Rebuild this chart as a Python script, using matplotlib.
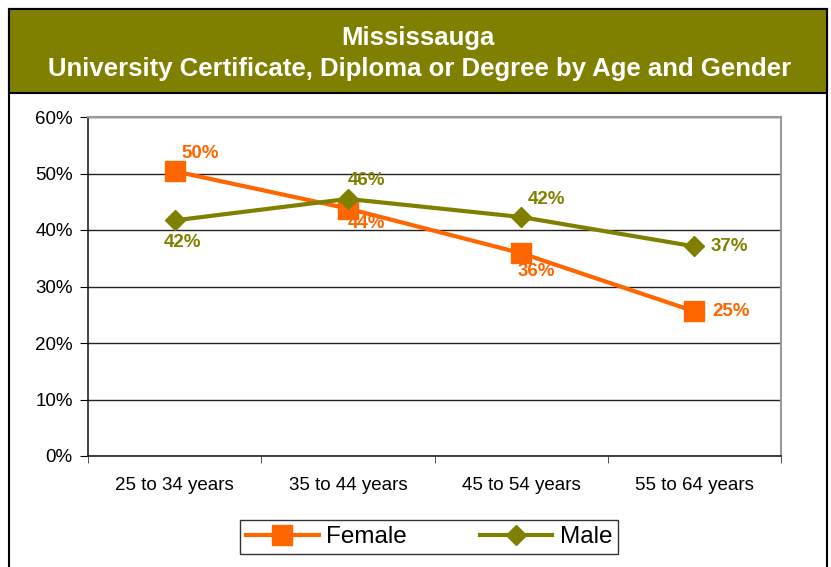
import matplotlib
matplotlib.use("Agg")
import matplotlib.pyplot as plt
from matplotlib.patches import Rectangle

plt.rcParams["font.family"] = ["Liberation Sans", "DejaVu Sans"]

AGES = ["25 to 34 years", "35 to 44 years", "45 to 54 years", "55 to 64 years"]
FEMALE = [50.4, 43.8, 35.9, 25.6]
MALE = [41.7, 45.5, 42.3, 37.1]
FEMALE_LABELS = ["50%", "44%", "36%", "25%"]
MALE_LABELS = ["42%", "46%", "42%", "37%"]
Y_TICKS = [0, 10, 20, 30, 40, 50, 60]

ORANGE = "#ff6600"
OLIVE = "#808000"

W, H = 831, 567
fig = plt.figure(figsize=(W / 100, H / 100), dpi=100)

# outer frame + olive title band (behind the axes)
fig.patches.append(Rectangle((9 / W, -0.1), 818 / W, 1.1 - 9 / H, transform=fig.transFigure,
                             facecolor="white", edgecolor="black", lw=1.5, zorder=-2))
fig.patches.append(Rectangle((9 / W, 1 - 93 / H), 818 / W, 84 / H, transform=fig.transFigure,
                             facecolor=OLIVE, edgecolor="black", lw=1.5, zorder=-1))
fig.text(418 / W, 1 - 38 / H, "Mississauga", ha="center", va="center",
         color="white", fontsize=18.5, fontweight="bold")
fig.text(420 / W, 1 - 69 / H, "University Certificate, Diploma or Degree by Age and Gender",
         ha="center", va="center", color="white", fontsize=18.5, fontweight="bold")

ax = fig.add_axes([88 / W, 1 - 456 / H, 693 / W, 339 / H])
ax.patch.set_alpha(0)
x = list(range(len(AGES)))
ax.plot(x, FEMALE, color=ORANGE, lw=3, marker="s", ms=14, label="Female", zorder=3)
ax.plot(x, MALE, color=OLIVE, lw=3, marker="D", ms=10, label="Male", zorder=4)

# data labels
f_off = [(5, 13), (0, -11), (11, -13), (13, 0)]
f_ha = ["left", "left", "center", "left"]
for i, (v, t) in enumerate(zip(FEMALE, FEMALE_LABELS)):
    ax.annotate(t, (i, v), xytext=f_off[i], textcoords="offset points",
                ha=f_ha[i], va="center", color=ORANGE, fontsize=13.5, fontweight="bold", zorder=5)
m_off = [(6, -16), (0, 13), (5, 12.5), (12, 0)]
m_ha = ["center", "left", "left", "left"]
for i, (v, t) in enumerate(zip(MALE, MALE_LABELS)):
    ax.annotate(t, (i, v), xytext=m_off[i], textcoords="offset points",
                ha=m_ha[i], va="center", color=OLIVE, fontsize=13.5, fontweight="bold", zorder=5)

ax.set_xlim(-0.5, 3.5)
ax.set_ylim(0, 60)
ax.set_yticks(Y_TICKS)
ax.set_yticklabels([f"{t}%" for t in Y_TICKS], fontsize=13.5)
ax.set_xticks(x)
ax.set_xticklabels(AGES, fontsize=13.5)
ax.tick_params(axis="x", length=0, pad=15)
ax.set_xticks([-0.5, 0.5, 1.5, 2.5, 3.5], minor=True)
ax.tick_params(axis="x", which="minor", length=5, direction="out", color="#333333")
ax.tick_params(axis="y", length=6, direction="out", pad=5)
ax.grid(axis="y", color="#222222", lw=1)
ax.set_axisbelow(True)
for s in ("top", "right"):
    ax.spines[s].set_color("#999999")
    ax.spines[s].set_linewidth(1.5)
for s in ("left", "bottom"):
    ax.spines[s].set_color("#222222")
    ax.spines[s].set_linewidth(1.2)

leg = fig.legend(loc="center", bbox_to_anchor=(429 / W, 1 - 537 / H), ncol=2,
                 fontsize=17.5, frameon=True, fancybox=False, edgecolor="black",
                 handlelength=3.0, columnspacing=3.0, borderpad=0.25, handletextpad=0.3)
leg.get_frame().set_linewidth(1)

fig.savefig("out.png", dpi=100)
